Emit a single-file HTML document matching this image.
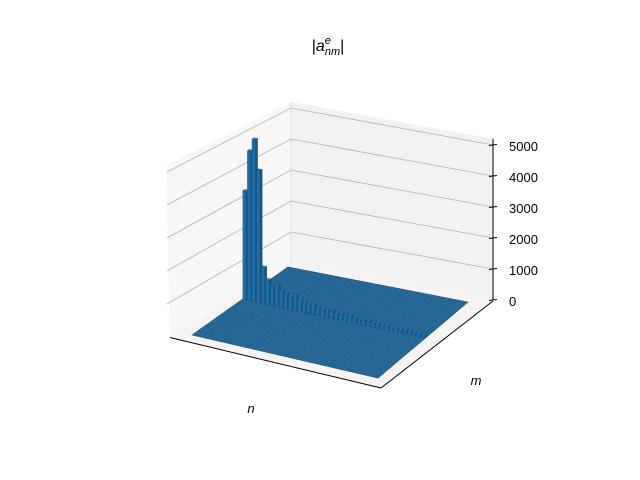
<!DOCTYPE html>
<html><head><meta charset="utf-8"><style>
html,body{margin:0;padding:0;background:#fff;}
svg{display:block;font-family:"Liberation Sans",sans-serif;}
</style></head><body>
<svg id="chart" width="640" height="480" viewBox="0 0 640 480">
<g id="panes"></g>
<g id="grid"></g>
<g id="floor"></g>
<g id="bars"></g>
<g id="axes"></g>
<text x="328" y="51" text-anchor="middle" font-size="16">|<tspan font-style="italic">a</tspan><tspan font-style="italic" font-size="11" dy="-7">e</tspan><tspan font-style="italic" font-size="11" dx="-6" dy="11">nm</tspan><tspan dy="-4">|</tspan></text>
<text x="251" y="413" text-anchor="middle" font-size="13" font-style="italic">n</text>
<text x="476" y="385" text-anchor="middle" font-size="13" font-style="italic">m</text>
</svg>
<script>
const zTicks=[0,1000,2000,3000,4000,5000];
const zTickLabels=["0","1000","2000","3000","4000","5000"];
const ridgeValues=[3450,4750,5150,4200,1150,780,650,700,520,480,420,500,360,330,300,340,260,240,230,250,200,190,180,200,160,150,150,160,130,120,120,130,110,100,100,110,90,90,85,80];
const nCount=40;
const mCount=40;
const ridgeM=21;
const zMax=5200;

const NS="http://www.w3.org/2000/svg";
function mk(tag,attrs,parent){const e=document.createElementNS(NS,tag);for(const k in attrs)e.setAttribute(k,attrs[k]);parent.appendChild(e);return e;}
function pts(a){return a.map(p=>p[0].toFixed(2)+","+p[1].toFixed(2)).join(" ");}
const L=[192,335],B=[288,267],R=[468,302],F=[378,378];
function floorPt(t,u){return [L[0]*(1-t)*(1-u)+F[0]*t*(1-u)+B[0]*(1-t)*u+R[0]*t*u, L[1]*(1-t)*(1-u)+F[1]*t*(1-u)+B[1]*(1-t)*u+R[1]*t*u];}
const zScale=31.5/1000;
function P(t,u,z){const p=floorPt(t,u);return [p[0],p[1]-z*zScale];}
const panes=document.getElementById('panes');
const yL=z=>337-33*z/1000, yB=z=>263-31*z/1000, yR=z=>300-31*z/1000;
let e=mk('polygon',{points:pts([[170,yL(0)],[291,yB(0)],[291,yB(zMax)],[166,yL(zMax)]]),fill:'#f7f7f7'},panes);

e=mk('polygon',{points:pts([[291,yB(0)],[493,yR(0)],[493,yR(zMax)],[291,yB(zMax)]]),fill:'#f2f2f2'},panes);

e=mk('polygon',{points:pts([[170,yL(0)],[291,yB(0)],[493,yR(0)],[381,388]]),fill:'#f4f4f4'},panes);

const grid=document.getElementById('grid');
zTicks.slice(1).forEach(z=>{
  const g1=mk('polyline',{points:pts([[167,yL(z)],[291,yB(z)],[493,yR(z)]]),fill:'none',stroke:'#b0b0b0','stroke-width':0.8},grid);
  
});
mk('line',{x1:291,y1:yB(0),x2:291,y2:yB(zMax),stroke:'#d8d8d8','stroke-width':0.8},grid);
const floor=document.getElementById('floor');
e=mk('polygon',{points:pts([L,B,R,F]),fill:'#286a9b',stroke:'#1d4f75','stroke-width':0.6},floor);

for(let i=1;i<nCount;i++){mk('line',{x1:floorPt(i/nCount,0)[0],y1:floorPt(i/nCount,0)[1],x2:floorPt(i/nCount,1)[0],y2:floorPt(i/nCount,1)[1],stroke:'#1c4c70','stroke-width':0.4,'stroke-opacity':0.45},floor);}
for(let j=1;j<mCount;j++){mk('line',{x1:floorPt(0,j/mCount)[0],y1:floorPt(0,j/mCount)[1],x2:floorPt(1,j/mCount)[0],y2:floorPt(1,j/mCount)[1],stroke:'#1c4c70','stroke-width':0.4,'stroke-opacity':0.45},floor);}
const bars=document.getElementById('bars');
const u0=ridgeM/mCount,u1=(ridgeM+0.8)/mCount;
ridgeValues.forEach((v,i)=>{
  const t0=i/nCount+0.1/nCount,t1=(i+0.9)/nCount;
  const g=mk('g',{},bars);
  
  
  mk('polygon',{points:pts([P(t0,u0,0),P(t1,u0,0),P(t1,u0,v),P(t0,u0,v)]),fill:'#1f6ea8',stroke:'#164e78','stroke-width':0.4},g);
  mk('polygon',{points:pts([P(t1,u0,0),P(t1,u1,0),P(t1,u1,v),P(t1,u0,v)]),fill:'#185888',stroke:'#123f62','stroke-width':0.4},g);
  mk('polygon',{points:pts([P(t0,u0,v),P(t1,u0,v),P(t1,u1,v),P(t0,u1,v)]),fill:'#2b79b6',stroke:'#164e78','stroke-width':0.4},g);
});
const axes=document.getElementById('axes');
e=mk('line',{x1:170,y1:337.5,x2:381,y2:388,stroke:'#000','stroke-width':1},axes);

e=mk('line',{x1:381,y1:388,x2:493,y2:301,stroke:'#000','stroke-width':1},axes);

e=mk('line',{x1:493,y1:yR(0),x2:493,y2:yR(zMax),stroke:'#000','stroke-width':1},axes);

zTicks.forEach((z,i)=>{
  const y=yR(z);
  mk('line',{x1:489,y1:y+0.5,x2:497,y2:y-0.5,stroke:'#000','stroke-width':1},axes);
  const t=mk('text',{x:509,y:y+6,'font-size':13},axes);
  t.textContent=zTickLabels[i];
  
  
});
</script>
</body></html>
